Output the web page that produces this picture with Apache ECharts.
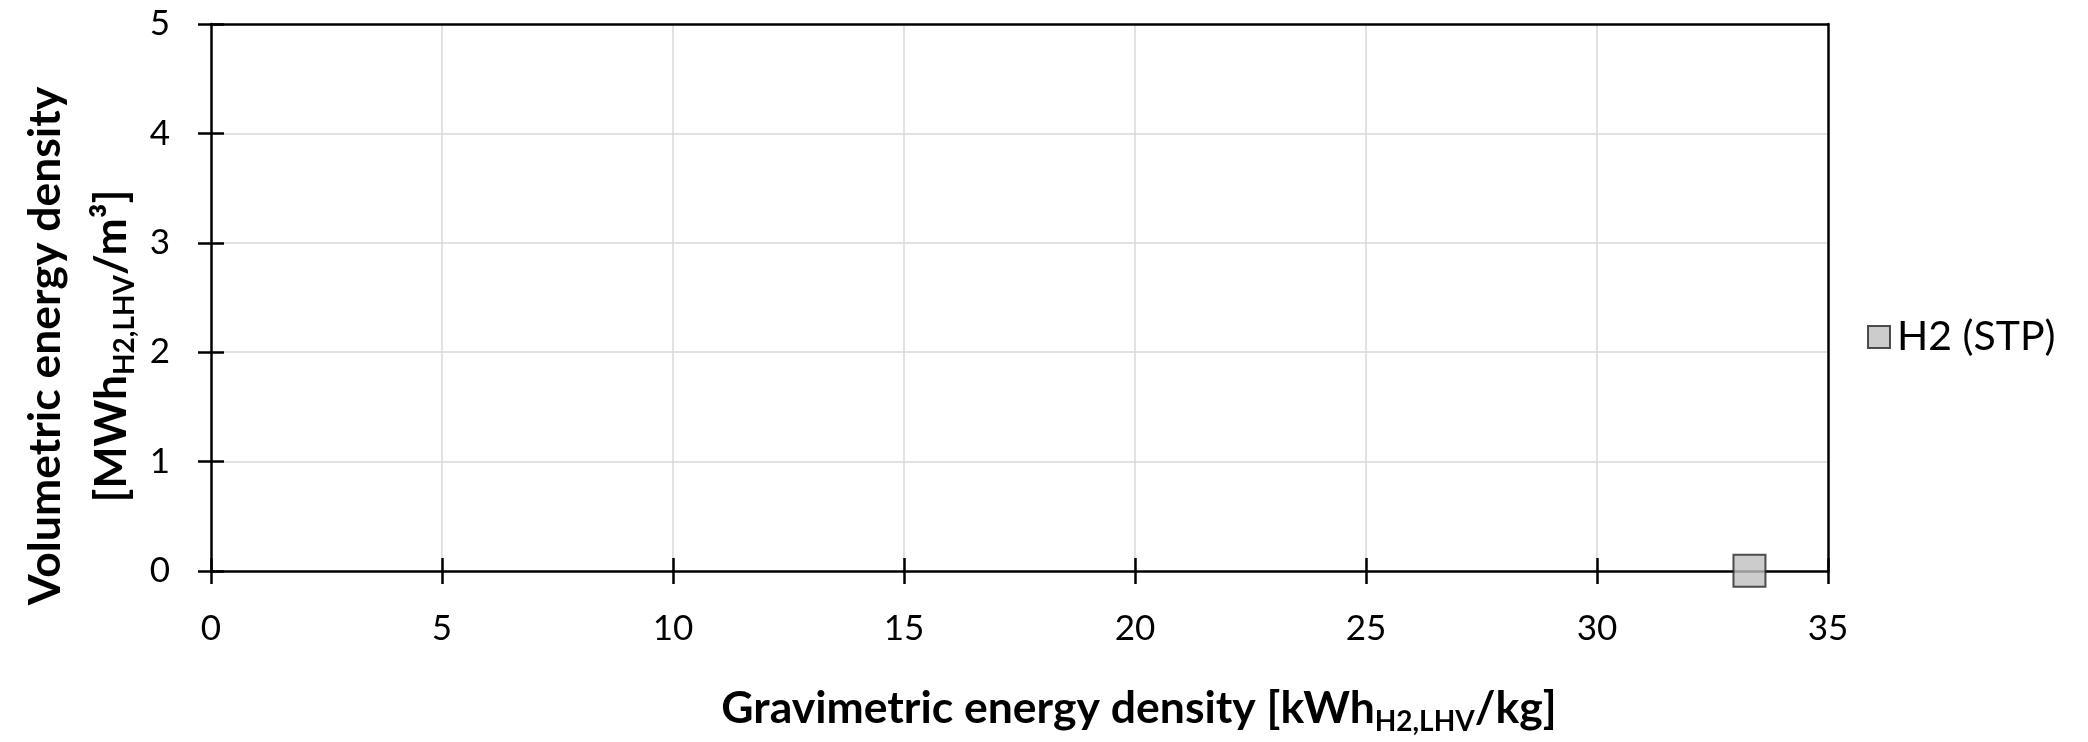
<!DOCTYPE html>
<html>
<head>
<meta charset="utf-8">
<script src="https://cdn.jsdelivr.net/npm/echarts@6/dist/echarts.min.js"></script>
<style>
html,body{margin:0;padding:0;background:#fff;}
#chart{width:2088px;height:742px;}
</style>
</head>
<body>
<div id="chart"></div>
<script>
// ---- data ----
const seriesNames = ['H2 (STP)'];
const gravimetric = [33.3];      // kWh/kg
const volumetric = [0.003];      // MWh/m3
const xAxisRange = [0, 35, 5];
const yAxisRange = [0, 5, 1];
const xTitleParts = ['Gravimetric energy density [kWh', 'H2,LHV', '/kg]'];
const yTitleLine1 = 'Volumetric energy density';
const yTitleLine2Parts = ['[MWh', 'H2,LHV', '/m³]'];

const FONT = 'Lato';
const chart = echarts.init(document.getElementById('chart'), null, {renderer: 'canvas'});

const G = {left: 211, top: 24, right: 2088 - 1828, bottom: 742 - 571};
const AX = {color: '#000', width: 2.5};

function makeX(mode) {
  const main = mode === 'main', inner = mode === 'inner', top = mode === 'top';
  return {
    type: 'value', gridIndex: 0, position: top ? 'top' : 'bottom',
    min: xAxisRange[0], max: xAxisRange[1], interval: xAxisRange[2],
    axisLine: {show: main || top, onZero: false, lineStyle: AX},
    axisTick: {show: main || inner, inside: inner, length: 13, lineStyle: AX},
    axisLabel: {show: main, margin: 40, color: '#000', fontFamily: FONT, fontSize: 35},
    splitLine: {show: main, showMinLine: false, showMaxLine: false, lineStyle: {color: '#d9d9d9', width: 1.5}}
  };
}
function makeY(mode) {
  const main = mode === 'main', inner = mode === 'inner', right = mode === 'right';
  return {
    type: 'value', gridIndex: 0, position: right ? 'right' : 'left',
    min: yAxisRange[0], max: yAxisRange[1], interval: yAxisRange[2],
    axisLine: {show: main || right, onZero: false, lineStyle: AX},
    axisTick: {show: main || inner, inside: inner, length: 13, lineStyle: AX},
    axisLabel: {show: main, margin: 41, color: '#000', fontFamily: FONT, fontSize: 35},
    splitLine: {show: main, showMinLine: false, showMaxLine: false, lineStyle: {color: '#d9d9d9', width: 1.5}}
  };
}

const subStyle = {fontFamily: FONT, fontWeight: 'bold', fontSize: 28, lineHeight: 54, padding: [26, 0, 0, 0], fill: '#000'};
const mainStyle = {fontFamily: FONT, fontWeight: 'bold', fontSize: 44.5, lineHeight: 54, fill: '#000'};

const option = {
  backgroundColor: '#fff',
  animation: false,
  grid: {left: G.left, top: G.top, right: G.right, bottom: G.bottom, show: false},
  xAxis: [makeX('main'), makeX('inner'), makeX('top')],
  yAxis: [makeY('main'), makeY('inner'), makeY('right')],
  legend: {
    data: seriesNames,
    left: 1862, top: 307, orient: 'vertical',
    icon: 'rect', itemWidth: 22, itemHeight: 22,
    textStyle: {fontFamily: FONT, fontSize: 41, color: '#000', lineHeight: 50, padding: [0, 0, 0, 2]}
  },
  series: seriesNames.map((name, i) => ({
    name: name, type: 'scatter', xAxisIndex: 0, yAxisIndex: 0,
    symbol: 'rect', symbolSize: 32,
    itemStyle: {color: '#bfbfbf', borderColor: '#262626', borderWidth: 2},
    data: [[gravimetric[i], volumetric[i]]],
    z: 10
  })),
  graphic: [
    {
      type: 'text', x: 1139, y: 709,
      style: {
        text: '{m|' + xTitleParts[0] + '}{s|' + xTitleParts[1] + '}{m|' + xTitleParts[2] + '}',
        align: 'center', verticalAlign: 'middle',
        rich: {m: mainStyle, s: subStyle}
      }
    },
    {
      type: 'text', x: 46, y: 346, rotation: Math.PI / 2,
      style: {
        text: yTitleLine1, align: 'center', verticalAlign: 'middle',
        fontFamily: FONT, fontWeight: 'bold', fontSize: 44.5, fill: '#000'
      }
    },
    {
      type: 'text', x: 112, y: 346, rotation: Math.PI / 2,
      style: {
        text: '{m|' + yTitleLine2Parts[0] + '}{s|' + yTitleLine2Parts[1] + '}{m|' + yTitleLine2Parts[2] + '}',
        align: 'center', verticalAlign: 'middle',
        rich: {m: mainStyle, s: subStyle}
      }
    }
  ]
};
chart.setOption(option);
</script>
</body>
</html>
